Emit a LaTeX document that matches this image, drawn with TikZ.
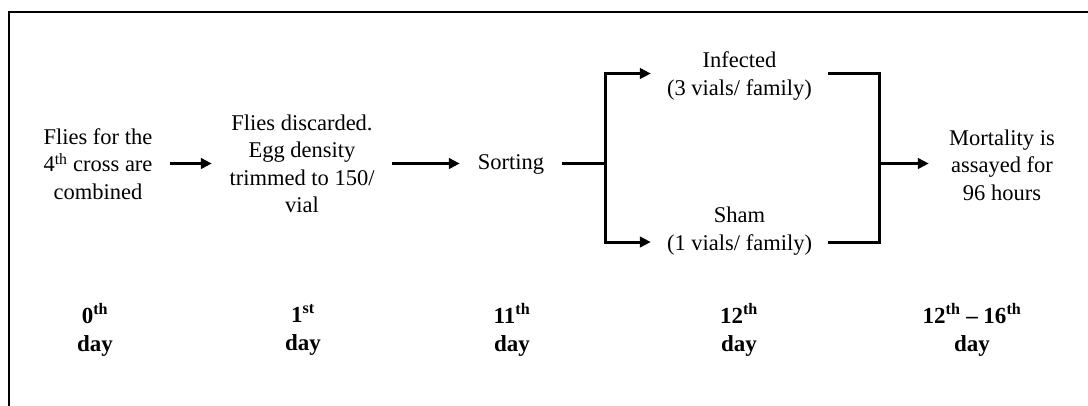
\documentclass[tikz,border=0pt]{standalone}
\usepackage{fontspec}
\setmainfont{Liberation Serif}
\usetikzlibrary{arrows.meta}
\begin{document}
\begin{tikzpicture}[x=1pt,y=-1pt,
  txt/.style={inner sep=0pt,align=center,font=\fontsize{22.5}{27.5}\selectfont},
  daylbl/.style={inner sep=0pt,align=center,font=\fontsize{23}{28}\selectfont\bfseries},
  conn/.style={line width=3pt},
  arr/.style={line width=3pt,-{Triangle[length=11pt,width=10.5pt]}},
  frame/.style={line width=2pt}]
\useasboundingbox (0,0) rectangle (1088,405);
% frame (top and left edges)
\coordinate (ftr) at (1090,12);
\coordinate (ftl) at (9,12);
\coordinate (fbl) at (9,407);
\draw[frame] (ftr) -- (ftl) -- (fbl);
% step nodes
\node[txt,minimum width=144pt] (n1) at (98,164) {Flies for the\\4\textsuperscript{th} cross are\\combined};
\node[txt,minimum width=180pt] (n2) at (302,164) {Flies discarded.\\Egg density\\trimmed to 150/\\vial};
\node[txt,minimum width=102pt] (n3) at (511,164) {Sorting};
\node[txt,minimum width=177pt] (n4) at (739.5,76) {Infected\\(3 vials/ family)};
\node[txt,minimum width=177pt] (n5) at (739.5,231) {Sham\\(1 vials/ family)};
\node[txt,minimum width=146pt] (n6) at (1002,165) {Mortality is\\assayed for\\96 hours};
% connectors
\coordinate (j) at (605,163.5);
\coordinate (k) at (879,163.5);
\draw[arr] (n1.east |- j) -- (n2.west |- j);
\draw[arr] (n2.east |- j) -- (n3.west |- j);
\draw[conn] (n3.east |- j) -- (j);
\draw[arr] (j) |- ([yshift=2.5pt]n4.west);
\draw[arr] (j) |- ([yshift=-11pt]n5.west);
\draw[conn] ([yshift=2.5pt]n4.east) -| (k);
\draw[conn] ([yshift=-11pt]n5.east) -| (k);
\draw[arr] (k) -- (n6.west |- k);
% day labels
\node[daylbl] (d0) at (95,330) {0\textsuperscript{th}\\day};
\node[daylbl] (d1) at (303,330) {1\textsuperscript{st}\\day};
\node[daylbl] (d11) at (512,330) {11\textsuperscript{th}\\day};
\node[daylbl] (d12) at (739,330) {12\textsuperscript{th}\\day};
\node[daylbl] (d16) at (972,330) {12\textsuperscript{th} -- 16\textsuperscript{th}\\day};
\end{tikzpicture}
\end{document}
